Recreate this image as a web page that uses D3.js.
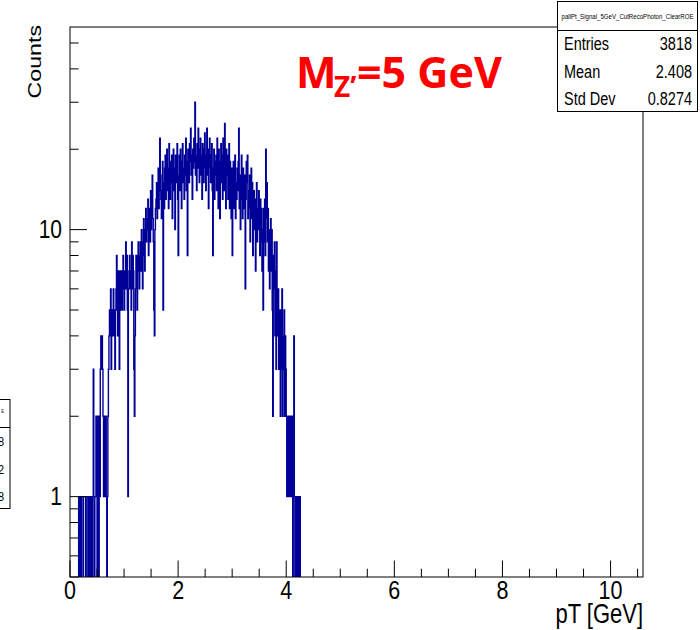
<!DOCTYPE html>
<html>
<head>
<meta charset="utf-8">
<script src="https://cdn.jsdelivr.net/npm/d3@7"></script>
<style>
  html, body { margin: 0; padding: 0; background: #fff; }
  svg { display: block; }
</style>
</head>
<body>
<svg id="chart" width="700" height="630"></svg>
<script>
// Photon pT histogram, 0.01 GeV bins starting at 0 GeV
const binWidth = 0.01;
const binStart = 0;
const counts = [
  0,0,0,0,0,0,0,0,0,0,
  0,0,0,0,0,0,1,1,0,1,
  0,1,1,1,0,1,1,1,1,0,
  1,1,1,0,1,0,1,1,0,1,
  1,0,1,3,1,0,1,1,2,2,
  0,1,2,0,2,1,3,4,3,4,
  3,2,1,2,1,2,2,1,0,1,
  2,3,4,5,4,6,3,5,4,5,
  6,4,5,3,5,6,8,5,4,7,
  6,3,7,5,6,7,5,6,8,7,
  5,6,7,9,6,8,5,1,6,7,
  8,6,7,5,9,6,8,7,3,2,
  4,6,8,7,5,8,9,7,6,8,
  9,7,10,8,6,9,11,8,7,10,
  12,9,11,10,13,8,11,12,9,14,
  10,12,16,11,9,5,4,10,12,13,
  15,11,13,17,12,14,22,16,13,11,
  14,18,5,15,12,17,19,13,16,20,
  14,17,12,21,16,13,18,15,19,11,
  16,20,14,17,10,19,15,18,21,13,
  8,16,19,14,20,17,12,18,21,15,
  17,13,19,16,22,14,18,8,20,17,
  15,21,18,24,16,19,13,20,17,22,
  18,30,16,19,14,21,17,24,20,15,
  18,22,16,19,13,21,17,15,20,23,
  17,14,19,24,16,20,12,18,22,17,
  15,19,21,14,8,17,20,13,18,16,
  19,14,22,17,12,20,16,11,18,21,
  15,19,13,22,17,14,25,18,12,20,
  16,19,13,17,21,12,18,15,11,17,
  8,14,18,12,16,19,11,15,13,17,
  14,18,24,12,16,10,15,19,13,11,
  17,14,12,16,6,13,18,15,19,11,
  14,12,16,9,13,17,11,15,8,12,
  14,10,13,7,11,15,9,12,10,14,
  11,8,13,9,12,7,10,5,12,9,
  13,8,20,11,15,9,12,7,10,6,
  9,11,7,10,5,2,8,6,9,4,
  7,3,9,5,4,6,3,5,4,2,
  5,3,6,2,4,3,5,2,4,3,
  2,1,2,2,1,2,1,2,2,1,
  2,1,0,2,4,1,0,1,0,1,
  0,1,0,1,0,1,0,0,0,0
];

// Axis settings
const xDomain = [0, 10.6];
const yDomain = [0.5, 57.4];
const xMajorTicks = [0, 2, 4, 6, 8, 10];
const xMinorStep = 0.5;
const yLabelTicks = [1, 10];
const xTitle = "pT [GeV]";
const yTitle = "Counts";

// Statistics box
const histName = "pallPt_Signal_5GeV_CutRecoPhoton_ClearROE";
const statLabels = ["Entries", "Mean", "Std Dev"];
const statValues = ["3818", "2.408", "0.8274"];

// Clipped statistics box of the neighbouring pad
const sideStatDigits = ["8", "2", "8"];

// Annotation
const annMain = "M";
const annSub = "Z\u2019";
const annRest = "=5 GeV";

const SY = 1.22;            // vertical text stretch
const FONT = "'Liberation Sans', Arial, Helvetica, sans-serif";
const LINE = "#000099";

const frame = { left: 70, right: 643, top: 27, bottom: 577 };
const svg = d3.select("#chart");

const x = d3.scaleLinear().domain(xDomain).range([frame.left, frame.right]);
const y = d3.scaleLog().domain(yDomain).range([frame.bottom, frame.top]);

function text(g, px, py, str, size, anchor, extra) {
  return g.append("text")
    .attr("transform", `translate(${px},${py}) scale(1,${SY})` + (extra || ""))
    .attr("font-family", FONT)
    .attr("font-size", size)
    .attr("text-anchor", anchor || "start")
    .attr("fill", "#000")
    .text(str);
}

// Clip for the histogram
svg.append("defs").append("clipPath").attr("id", "frameClip")
  .append("rect")
  .attr("x", frame.left).attr("y", frame.top)
  .attr("width", frame.right - frame.left)
  .attr("height", frame.bottom - frame.top);

// Histogram outline (zero-content bins fall below the log range)
const pts = counts.map((c, i) => [binStart + i * binWidth, c]);
pts.push([binStart + counts.length * binWidth, counts[counts.length - 1]]);
const yPos = c => c > 0 ? y(c) : frame.bottom + 3;
const line = d3.line()
  .x(d => x(d[0]))
  .y(d => yPos(d[1]))
  .curve(d3.curveStepAfter);

svg.append("path")
  .attr("clip-path", "url(#frameClip)")
  .attr("d", line(pts))
  .attr("fill", "none")
  .attr("stroke", LINE)
  .attr("stroke-width", 1.4);

// Frame
svg.append("rect")
  .attr("x", frame.left).attr("y", frame.top)
  .attr("width", frame.right - frame.left)
  .attr("height", frame.bottom - frame.top)
  .attr("fill", "none").attr("stroke", "#000").attr("stroke-width", 1);

// X axis ticks (pointing into the frame)
const axes = svg.append("g").attr("stroke", "#000").attr("stroke-width", 1);
const xMinor = d3.range(0, xDomain[1] + 1e-9, xMinorStep);
xMinor.forEach(v => {
  const major = xMajorTicks.some(m => Math.abs(m - v) < 1e-9);
  axes.append("line")
    .attr("x1", x(v)).attr("x2", x(v))
    .attr("y1", frame.bottom).attr("y2", frame.bottom - (major ? 16.5 : 8.3));
});

// Y axis ticks: 1..9 in each decade
const yTickVals = [];
[0.1, 1, 10].forEach(dec => {
  for (let k = 1; k <= 9; k++) {
    const v = k * dec;
    if (v >= yDomain[0] - 1e-9 && v <= yDomain[1]) yTickVals.push({ v, major: k === 1 });
  }
});
yTickVals.forEach(t => {
  axes.append("line")
    .attr("x1", frame.left).attr("x2", frame.left + (t.major ? 17 : 8.6))
    .attr("y1", y(t.v)).attr("y2", y(t.v));
});

// Tick labels
const labels = svg.append("g");
xMajorTicks.forEach(v => text(labels, x(v), 599, d3.format("d")(v), 21.5, "middle"));
yLabelTicks.forEach(v => text(labels, 62, y(v) + 8, d3.format("d")(v), 21, "end"));

// Axis titles
text(labels, frame.right, 623, xTitle, 22, "end");
text(labels, 41, 25, yTitle, 19, "end", " rotate(-90)");

// Statistics box
const stat = svg.append("g");
stat.append("rect")
  .attr("x", 557.5).attr("y", 1.5).attr("width", 140).attr("height", 110)
  .attr("fill", "#fff").attr("stroke", "#000").attr("stroke-width", 1);
stat.append("line")
  .attr("x1", 557.5).attr("x2", 697.5).attr("y1", 30.5).attr("y2", 30.5)
  .attr("stroke", "#000").attr("stroke-width", 1);
text(stat, 627.5, 19, histName, 5.2, "middle")
  .attr("textLength", 132).attr("lengthAdjust", "spacingAndGlyphs");
statLabels.forEach((s, i) => {
  const by = 50 + i * 27.5;
  text(stat, 564, by, s, 14.5, "start");
  text(stat, 692, by, statValues[i], 14.5, "end");
});

// Neighbouring pad's statistics box, mostly outside the canvas
const side = svg.append("g");
side.append("rect")
  .attr("x", -60).attr("y", 399.5).attr("width", 70).attr("height", 109)
  .attr("fill", "#fff").attr("stroke", "#000").attr("stroke-width", 1);
side.append("line")
  .attr("x1", 0).attr("x2", 10).attr("y1", 427.5).attr("y2", 427.5)
  .attr("stroke", "#000").attr("stroke-width", 1);
text(side, 4, 413, "E", 4, "end");
sideStatDigits.forEach((d, i) => text(side, 4, 446 + i * 27.5, d, 11, "end"));

// Red mass annotation: M with subscript Z'
const ann = svg.append("text")
  .attr("x", 296).attr("y", 88)
  .attr("font-family", "'Open Sans', Lato, sans-serif")
  .attr("font-weight", 700)
  .attr("font-size", 43)
  .attr("fill", "#ff0000");
ann.append("tspan").text(annMain);
ann.append("tspan").attr("x", 334).attr("dy", 9).attr("font-size", 28).text(annSub);
ann.append("tspan").attr("x", 357).attr("dy", -9).text(annRest);
</script>
</body>
</html>
